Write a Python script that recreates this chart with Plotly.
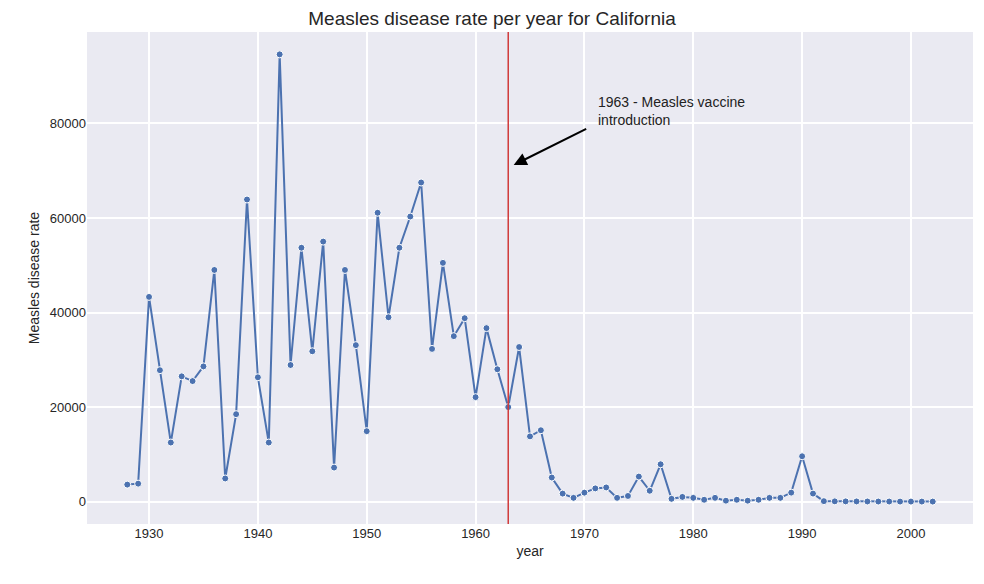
import plotly.graph_objects as go

years = list(range(1928, 2003))
rates = [3600, 3800, 43300, 27800, 12500, 26500, 25500, 28600, 49000, 4900,
         18500, 63900, 26300, 12500, 94600, 28900, 53700, 31800, 55000, 7200,
         49000, 33100, 14900, 61100, 39000, 53700, 60300, 67500, 32300, 50500,
         35000, 38800, 22100, 36700, 28000, 20000, 32700, 13800, 15100, 5100,
         1700, 800, 1900, 2800, 3000, 800, 1200, 5300, 2300, 7900,
         600, 1000, 800, 400, 800, 200, 400, 200, 400, 800,
         800, 1900, 9600, 1700, 100, 60, 50, 40, 30, 20,
         20, 10, 10, 10, 10]
vaccine_year = 1963
note = "1963 - Measles vaccine<br>introduction"

FONT = "Liberation Sans, Arial, sans-serif"

fig = go.Figure()
fig.add_trace(go.Scatter(
    x=years, y=rates, mode="lines+markers",
    line=dict(color="#4C72B0", width=2),
    marker=dict(color="#4C72B0", size=7, line=dict(color="white", width=1)),
    showlegend=False,
))
fig.add_vline(x=vaccine_year, line=dict(color="#d03a3a", width=1.5))

# arrow (no text) and the note text as a separate annotation
fig.add_annotation(
    x=1963.5, y=71200, ax=1970.3, ay=79000, axref="x", ayref="y",
    text="", showarrow=True, arrowhead=2, arrowsize=1.3, arrowwidth=2,
    arrowcolor="black",
)
fig.add_annotation(
    x=1971.1, y=86600, text=note, showarrow=False, xanchor="left", yanchor="top",
    align="left", font=dict(size=14, color="#222222"),
)

fig.update_xaxes(
    range=[1924.3, 2005.7], tickvals=list(range(1930, 2001, 10)),
    gridcolor="white", gridwidth=1.5, zeroline=False, ticks="",
    title=dict(text="year", font=dict(size=14), standoff=6),
)
fig.update_yaxes(
    range=[-4730, 99330], tickvals=[0, 20000, 40000, 60000, 80000], tickformat="d",
    gridcolor="white", gridwidth=1.5, zeroline=False, ticks="",
    title=dict(text="Measles disease rate", font=dict(size=14), standoff=6),
)
# page body has an 8px margin, so the figure is sized/margined to compensate
fig.update_layout(
    width=968, height=568,
    paper_bgcolor="white", plot_bgcolor="#EAEAF2",
    font=dict(family=FONT, size=13, color="#262626"),
    title=dict(text="Measles disease rate per year for California", x=0.5,
               xanchor="center", y=0.982, yanchor="middle", font=dict(size=19)),
    margin=dict(l=79, r=3, t=24, b=52),
)

fig.write_html("out.html")
